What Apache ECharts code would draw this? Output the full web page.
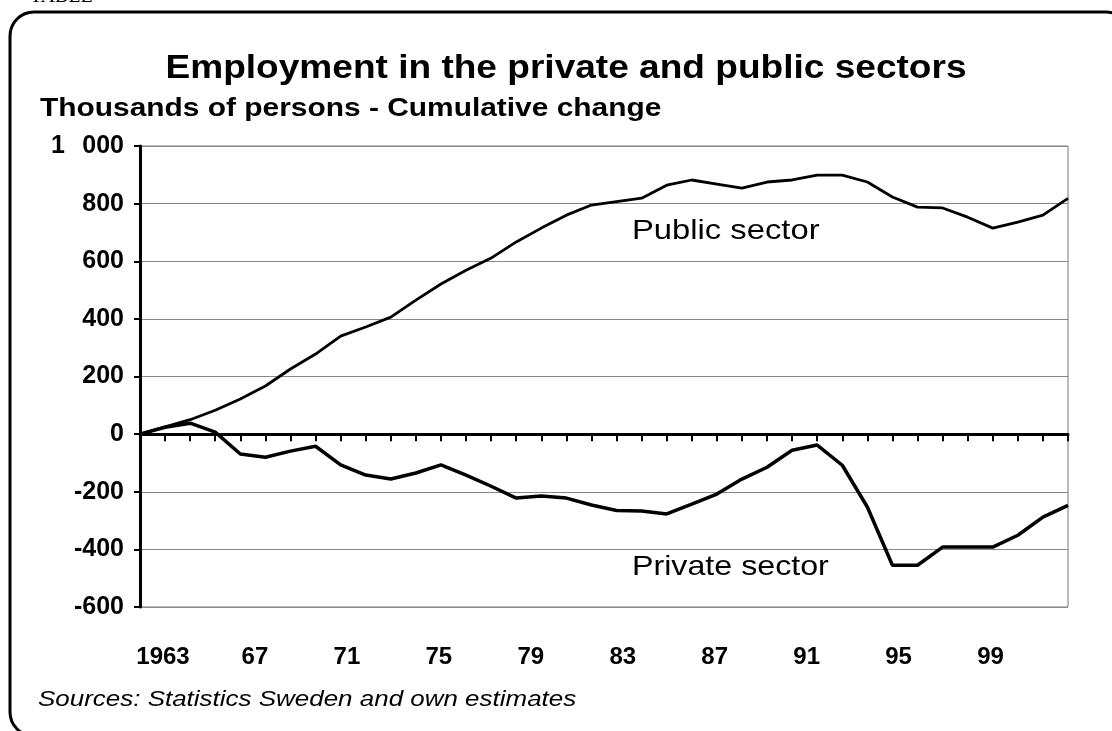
<!DOCTYPE html>
<html>
<head>
<meta charset="utf-8">
<script src="https://cdn.jsdelivr.net/npm/echarts@6/dist/echarts.min.js"></script>
<style>
html,body{margin:0;padding:0;background:#fff;}
#c{width:1112px;height:731px;}
</style>
</head>
<body>
<div id="c"></div>
<script>
const years = [1963,1964,1965,1966,1967,1968,1969,1970,1971,1972,1973,1974,1975,1976,1977,1978,1979,1980,1981,1982,1983,1984,1985,1986,1987,1988,1989,1990,1991,1992,1993,1994,1995,1996,1997,1998,1999,2000];
const publicSector = [0,25,50,83,122,167,226,278,340,372,406,465,521,569,611,667,715,760,795,807,819,864,882,868,854,875,882,899,899,875,823,788,785,753,715,736,760,818];
const privateSector = [0,24,38,7,-69,-80,-59,-42,-107,-142,-156,-135,-107,-142,-181,-222,-215,-222,-246,-265,-267,-277,-243,-208,-156,-115,-56,-38,-108,-253,-455,-455,-392,-392,-392,-351,-288,-247];
const yTicks = {min:-600, max:1000, step:200};
const xLabelYears = [1963,1967,1971,1975,1979,1983,1987,1991,1995,1999];

const chart = echarts.init(document.getElementById('c'));
const font = "'Liberation Sans', Arial, sans-serif";
const pub = years.map((y,i)=>[y, publicSector[i]]);
const priv = years.map((y,i)=>[y, privateSector[i]]);

chart.setOption({
  animation:false,
  backgroundColor:'#fff',
  grid:{left:140, right:44, top:146, bottom:124, show:true, borderColor:'#777', borderWidth:1},
  xAxis:[{
    type:'value', min:1963, max:2000, interval:1,
    axisLine:{onZero:true, lineStyle:{color:'#000', width:3}},
    axisTick:{show:true, inside:false, length:7, lineStyle:{color:'#000', width:2}},
    axisLabel:{show:false},
    splitLine:{show:false}
  },{
    type:'value', min:1962, max:2002.37, interval:1, position:'bottom',
    axisLine:{show:false}, axisTick:{show:false}, splitLine:{show:false},
    axisLabel:{
      show:true, margin:38, color:'#000', fontFamily:font, fontWeight:'bold', fontSize:24,
      showMaxLabel:false, showMinLabel:false,
      formatter:function(v){
        if (xLabelYears.indexOf(v) < 0) return '';
        return v===1963 ? '1963' : String(v).slice(2);
      }
    }
  }],
  yAxis:{
    type:'value', min:yTicks.min, max:yTicks.max, interval:yTicks.step,
    axisLine:{show:true, lineStyle:{color:'#000', width:3}},
    axisTick:{show:true, length:6, lineStyle:{color:'#000', width:2}},
    axisLabel:{color:'#000', fontFamily:font, fontWeight:'bold', fontSize:25, margin:16,
      formatter:function(v){ return v===1000 ? '1\u2002\u2009000' : String(v); }},
    splitLine:{show:true, lineStyle:{color:'#888', width:1}}
  },
  series:[
    {type:'line', name:'Public sector', data:pub, xAxisIndex:0, symbol:'none', lineStyle:{color:'#000', width:2.8}},
    {type:'line', name:'Private sector', data:priv, xAxisIndex:0, symbol:'none', lineStyle:{color:'#000', width:3.5}}
  ],
  graphic:[
    {type:'rect', shape:{x:10, y:12, width:1120, height:724, r:24}, style:{fill:'none', stroke:'#000', lineWidth:3}, silent:true},
    {type:'text', x:30, y:7, style:{text:'TABLE -', font:"20px 'Liberation Serif', serif", fill:'#000', textVerticalAlign:'bottom'}},
    {type:'text', x:566, y:69, scaleX:1.09, style:{text:'Employment in the private and public sectors', font:"bold 34px "+font, fill:'#000', textAlign:'center', textVerticalAlign:'middle'}},
    {type:'text', x:40, y:109, scaleX:1.15, style:{text:'Thousands of persons - Cumulative change', font:"bold 26px "+font, fill:'#000', textVerticalAlign:'middle'}},
    {type:'text', x:632, y:231, scaleX:1.17, style:{text:'Public sector', font:"28px "+font, fill:'#000', textVerticalAlign:'middle'}},
    {type:'text', x:632, y:567, scaleX:1.15, style:{text:'Private sector', font:"28px "+font, fill:'#000', textVerticalAlign:'middle'}},
    {type:'text', x:38, y:700, scaleX:1.18, style:{text:'Sources: Statistics Sweden and own estimates', font:"italic 22px "+font, fill:'#000', textVerticalAlign:'middle'}}
  ]
});
</script>
</body>
</html>
